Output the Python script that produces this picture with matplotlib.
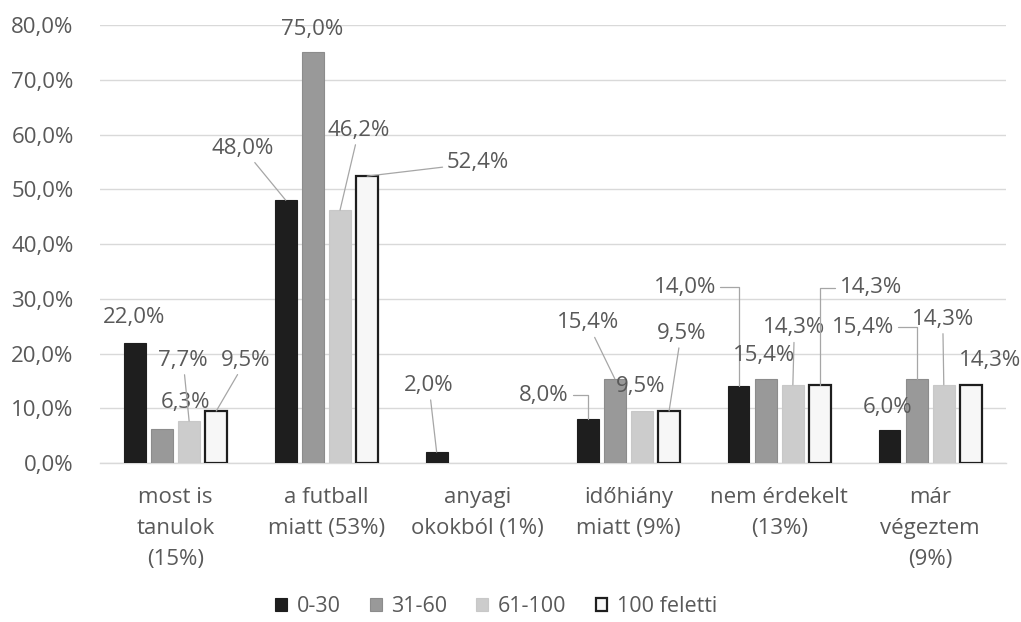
import matplotlib
matplotlib.use("Agg")
import matplotlib.pyplot as plt
import numpy as np

categories = ["most is\ntanulok\n(15%)", "a futball\nmiatt (53%)", "anyagi\nokokból (1%)",
              "időhiány\nmiatt (9%)", "nem érdekelt\n(13%)", "már\nvégeztem\n(9%)"]
series_names = ["0-30", "31-60", "61-100", "100 feletti"]
v_0_30 = [22.0, 48.0, 2.0, 8.0, 14.0, 6.0]
v_31_60 = [6.3, 75.0, 0.0, 15.4, 15.4, 15.4]
v_61_100 = [7.7, 46.2, 0.0, 9.5, 14.3, 14.3]
v_100_plus = [9.5, 52.4, 0.0, 9.5, 14.3, 14.3]
yticks = [0, 10, 20, 30, 40, 50, 60, 70, 80]

series = [v_0_30, v_31_60, v_61_100, v_100_plus]
faces = ["#1e1e1e", "#999999", "#cccccc", "#f7f7f7"]
edges = ["#1e1e1e", "#8c8c8c", "#c8c8c8", "#1e1e1e"]
lws = [0.8, 0.8, 0.8, 1.6]

# label text placement (data coords) and leader style, keyed by (series, category)
label_pos = {
    (0, 0): (-0.275, 26.5, None), (1, 0): (0.063, 11.0, None), (2, 0): (0.05, 18.8, "s"), (3, 0): (0.467, 18.8, "s"),
    (0, 1): (0.447, 57.5, "s"), (1, 1): (0.904, 79.1, None), (2, 1): (1.215, 60.8, "s"), (3, 1): (2.003, 54.8, "s"),
    (0, 2): (1.679, 14.2, "s"),
    (0, 3): (2.44, 12.4, "e"), (1, 3): (2.73, 25.6, "s"), (2, 3): (3.08, 13.9, None), (3, 3): (3.35, 23.7, "s"),
    (0, 4): (3.374, 32.1, "e"), (1, 4): (3.90, 19.7, None), (2, 4): (4.10, 24.7, "s"), (3, 4): (4.606, 32.0, "e"),
    (0, 5): (4.72, 10.2, None), (1, 5): (4.553, 24.8, "e"), (2, 5): (5.083, 26.3, "s"), (3, 5): (5.394, 18.8, None),
}

plt.rcParams["font.family"] = ["Open Sans", "DejaVu Sans"]
txt = "#595959"
FS = 16

fig = plt.figure(figsize=(10.21, 6.22), dpi=100)
ax = fig.add_axes([0.098, 0.2556, 0.887, 0.7042])

x = np.arange(len(categories))
bw = 0.145
step = 0.18
offs = (np.arange(4) - 1.5) * step
for s, vals in enumerate(series):
    bars = ax.bar(x + offs[s], vals, width=bw, color=faces[s], edgecolor=edges[s],
                  linewidth=lws[s], label=series_names[s], zorder=3)
    for b, v in zip(bars, vals):
        if v == 0:
            b.set_visible(False)

for (s, c), (tx, ty, style) in label_pos.items():
    v = series[s][c]
    if v == 0:
        continue
    lab = f"{v:.1f}%".replace(".", ",")
    bx = x[c] + offs[s]
    if style is None:
        ax.text(tx, ty, lab, ha="center", va="center", fontsize=FS, color=txt, zorder=5)
    else:
        cs = "arc3" if style == "s" else "angle,angleA=0,angleB=90,rad=0"
        ax.annotate(lab, xy=(bx, v), xytext=(tx, ty), ha="center", va="center",
                    fontsize=FS, color=txt, zorder=5,
                    arrowprops=dict(arrowstyle="-", color="#a6a6a6", lw=0.9,
                                    shrinkA=1, shrinkB=0, connectionstyle=cs))

ax.set_xlim(-0.5, len(categories) - 0.5)
ax.set_ylim(0, 80)
ax.set_yticks(yticks)
ax.set_yticklabels([f"{t:.1f}%".replace(".", ",") for t in yticks])
ax.set_xticks(x)
ax.set_xticklabels(categories, linespacing=1.65)
ax.tick_params(axis="y", length=0, pad=19, labelsize=FS, labelcolor=txt)
ax.tick_params(axis="x", length=0, pad=17, labelsize=FS, labelcolor=txt)
ax.grid(axis="y", color="#d9d9d9", lw=1, zorder=0)
for sp in ["top", "right", "left"]:
    ax.spines[sp].set_visible(False)
ax.spines["bottom"].set_color("#d9d9d9")
ax.spines["bottom"].set_linewidth(1)

fig.legend(loc="center", bbox_to_anchor=(0.486, 0.025), ncol=4, frameon=False,
           handlelength=0.55, handleheight=0.55, columnspacing=1.35, handletextpad=0.45,
           fontsize=15.5, labelcolor=txt, borderpad=0.1)

fig.savefig("out.png", dpi=100)
